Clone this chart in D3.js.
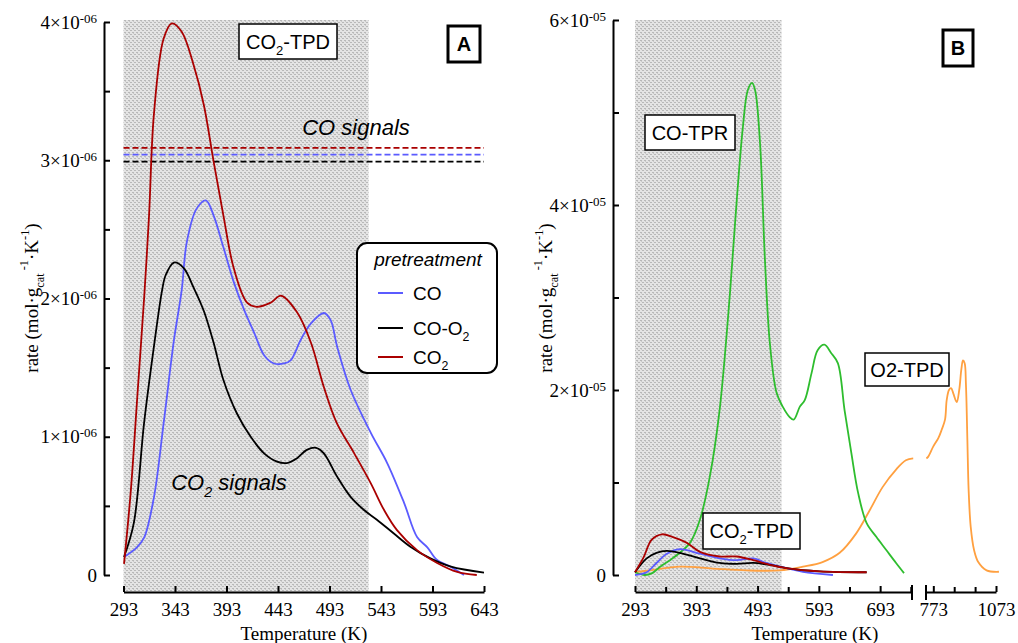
<!DOCTYPE html>
<html><head><meta charset="utf-8">
<script src="https://cdn.jsdelivr.net/npm/d3@7"></script>
<style>body{margin:0;background:#fff} svg{display:block}</style>
</head><body><svg id="c" width="1018" height="643"></svg>
<script>
// ---------- DATA ----------
// Panel A (rate in units of 1e-6 mol·g-1·K-1), temperature in K
const xTicksA = [293,343,393,443,493,543,593,643];
const yTicksA = [0,1,2,3,4];
const yMinorA = [0.5,1.5,2.5,3.5];
const yExpA = "-06";
const A_CO = [[293.5,0.13],[306,0.2],[313,0.27],[322.5,0.56],[332,1.1],[342,1.70],[349.5,2.06],[354.5,2.41],[364,2.65],[373,2.71],[380.5,2.60],[390,2.37],[400,2.12],[410,1.92],[420,1.75],[429.5,1.59],[439,1.53],[449,1.53],[455.5,1.555],[465,1.70],[475,1.82],[487.5,1.895],[494,1.845],[500.5,1.65],[513.5,1.34],[533,1.03],[549,0.81],[565.5,0.52],[578,0.275],[588,0.2],[597.5,0.108],[611,0.058],[623.5,0.0]];
const A_COO2 = [[293.5,0.13],[303,0.375],[313,1.10],[322.5,1.65],[330.5,2.06],[334,2.17],[342,2.26],[351.5,2.22],[361,2.08],[371,1.91],[380.5,1.68],[390,1.41],[403,1.17],[416.5,1.0],[429.5,0.88],[442,0.82],[451.5,0.81],[461.5,0.845],[471,0.905],[480,0.92],[487.5,0.88],[500.5,0.71],[513.5,0.565],[526.5,0.47],[539,0.40],[555.5,0.30],[571.5,0.205],[591,0.12],[611,0.06],[643,0.017]];
const A_CO2 = [[293.5,0.08],[300,0.6],[306.5,1.3],[313,2.0],[317.8,2.6],[322.5,3.33],[332,3.88],[340,3.99],[349.5,3.93],[361,3.69],[371,3.40],[380.5,2.99],[390,2.60],[400,2.22],[413,1.97],[422.5,1.94],[436,1.97],[446,2.02],[461.5,1.90],[475,1.68],[487.5,1.36],[500,1.10],[517,0.88],[533,0.665],[546,0.47],[558.5,0.325],[578,0.18],[597.5,0.087],[617,0.022],[636,0.0]];
const A_COsignals = [3.09, 3.04, 2.99]; // CO2, CO, CO-O2 pretreatment
const shadeA = [293, 531];

// Panel B (rate in units of 1e-5)
const xTicksB1 = [293,393,493,593,693];
const xMinorB1 = [343,443,543,643,743];
const xTicksB2 = [773,1073];
const xMinorB2 = [873,973];
const yTicksB = [0,2,4,6];
const yMinorB = [1,3,5];
const yExpB = "-05";
const B_CO = [[293,0.0],[312,0.03],[328,0.13],[345,0.23],[366,0.28],[399,0.23],[431,0.18],[459,0.16],[486,0.18],[507,0.13],[540,0.075],[567,0.035],[616,0.0]];
const B_COO2 = [[293,0.03],[312,0.18],[328,0.24],[345,0.26],[366,0.24],[399,0.18],[431,0.13],[459,0.12],[486,0.13],[513,0.11],[540,0.075],[594,0.04],[671,0.03]];
const B_CO2 = [[293,0.03],[307,0.19],[320,0.38],[337,0.44],[355,0.41],[377,0.35],[399,0.25],[431,0.2],[459,0.2],[486,0.16],[513,0.11],[540,0.075],[594,0.04],[671,0.03]];
const B_COTPR = [[293,0.03],[309,0.0],[321,0.02],[334,0.09],[350,0.16],[366,0.24],[383,0.35],[399,0.6],[415,1.06],[431,1.78],[448,3.05],[459,4.05],[469,4.84],[477,5.24],[484,5.32],[489,5.24],[497,4.67],[505,3.41],[513,2.51],[524,1.97],[534,1.82],[545,1.71],[552,1.68],[562,1.82],[570,1.89],[581,2.18],[591,2.43],[602,2.49],[613,2.40],[624,2.29],[635,1.78],[646,1.32],[657,0.89],[671,0.56],[687,0.41],[703,0.27],[719,0.13],[732,0.02]];
const B_O2TPD_1 = [[293,0.03],[317,0.05],[366,0.09],[420,0.07],[475,0.05],[529,0.05],[567,0.09],[599,0.14],[627,0.24],[654,0.45],[676,0.7],[697,0.95],[719,1.14],[735,1.24],[747,1.26]];
const B_O2TPD_2 = [[740,1.26],[749,1.28],[773,1.39],[797,1.48],[813,1.57],[829,1.68],[837,1.89],[848,2.0],[858,2.02],[869,1.96],[885,1.87],[897,2.0],[907,2.22],[915,2.32],[923,2.29],[929,2.07],[936,1.46],[942,0.92],[952,0.52],[968,0.27],[988,0.14],[1028,0.05],[1087,0.035]];
const shadeB = [293, 532];

const colors = {CO:"#5b5bff", COO2:"#000000", CO2:"#aa0000", TPR:"#2ebd2e", O2:"#ffa040"};

// ---------- DRAW ----------
const svg = d3.select('#c');
const defs = svg.append('defs');
const pat = defs.append('pattern').attr('id','hatch').attr('patternUnits','userSpaceOnUse').attr('width',4).attr('height',4);
pat.append('rect').attr('width',4).attr('height',4).attr('fill','#e4e4e4');
pat.append('rect').attr('x',0).attr('y',0).attr('width',2).attr('height',1).attr('fill','#b8b8b8');
pat.append('rect').attr('x',2).attr('y',2).attr('width',2).attr('height',1).attr('fill','#b8b8b8');
pat.append('rect').attr('x',1).attr('y',1).attr('width',1).attr('height',1).attr('fill','#cacaca');

const SERIF = "'Liberation Serif','Times New Roman',serif";
const SANS = "'Liberation Sans',Arial,sans-serif";

function richText(g, x, y, parts, opts) {
  const t = g.append('text').attr('x', x).attr('y', y)
    .attr('font-family', opts.family || SANS).attr('font-size', opts.size)
    .attr('text-anchor', opts.anchor || 'middle').attr('fill', '#000');
  if (opts.italic) t.attr('font-style', 'italic');
  if (opts.weight) t.attr('font-weight', opts.weight);
  let shift = 0;
  parts.forEach(p => {
    const [s, kind] = Array.isArray(p) ? p : [p, ''];
    const ts = t.append('tspan').text(s);
    let target = 0, fs = null;
    if (kind === 'sub') { target = opts.size * 0.3; fs = opts.size * 0.65; }
    if (kind === 'sup') { target = -opts.size * 0.45; fs = opts.size * 0.65; }
    if (kind === 'subsup') { target = -opts.size * 0.55; fs = opts.size * 0.65; }
    if (fs) ts.attr('font-size', fs);
    ts.attr('dy', target - shift);
    shift = target;
  });
  return t;
}

function box(g, x0, y0, x1, y1, sw) {
  g.append('rect').attr('x', x0).attr('y', y0).attr('width', x1 - x0).attr('height', y1 - y0)
    .attr('fill', '#fff').attr('stroke', '#000').attr('stroke-width', sw);
}

function drawYAxis(g, y, xPos, ticks, minor, exp) {
  const ax = g.append('g').attr('transform', `translate(${xPos},0)`)
    .call(d3.axisLeft(y).tickValues(ticks).tickSizeInner(-6).tickSizeOuter(0).tickPadding(7));
  ax.attr('font-family', SERIF);
  ax.select('.domain').attr('stroke-width', 2);
  ax.selectAll('.tick line').attr('stroke-width', 2);
  ax.selectAll('.tick text').each(function(d) {
    const t = d3.select(this);
    t.text(null).attr('font-family', SERIF).attr('font-size', 19).attr('fill', '#000');
    if (d === 0) { t.text('0'); return; }
    t.append('tspan').text(d + '×10');
    t.append('tspan').attr('dy', '-0.45em').attr('font-size', 13).text(exp);
  });
  const mi = g.append('g').attr('transform', `translate(${xPos},0)`)
    .call(d3.axisLeft(y).tickValues(minor).tickSizeInner(-6).tickSizeOuter(0).tickFormat(''));
  mi.select('.domain').remove();
  mi.selectAll('.tick line').attr('stroke-width', 2);
}

function drawXAxis(g, x, yPos, ticks, minor) {
  const ax = g.append('g').attr('transform', `translate(0,${yPos})`)
    .call(d3.axisBottom(x).tickValues(ticks).tickFormat(d3.format('d')).tickSizeInner(-6).tickSizeOuter(0).tickPadding(11));
  ax.attr('font-family', SERIF);
  ax.select('.domain').attr('stroke-width', 2);
  ax.selectAll('.tick line').attr('stroke-width', 2);
  ax.selectAll('.tick text').attr('font-family', SERIF).attr('font-size', 19).attr('fill', '#000');
  if (minor && minor.length) {
    const mi = g.append('g').attr('transform', `translate(0,${yPos})`)
      .call(d3.axisBottom(x).tickValues(minor).tickSizeInner(-5).tickSizeOuter(0).tickFormat(''));
    mi.select('.domain').remove();
    mi.selectAll('.tick line').attr('stroke-width', 2);
  }
  return ax;
}

function yTitle(g, x, y) {
  const t = richText(g, 0, 0, ['rate (mol·g', ['cat','sub'], [' -1','subsup'], ['·K',''], ['-1','sup'], [')','']],
    {family: SERIF, size: 19});
  t.attr('transform', `translate(${x},${y}) rotate(-90)`);
}

// ===== Panel A =====
const xA = d3.scaleLinear().domain([293, 643]).range([123.5, 484]);
const yA = d3.scaleLinear().domain([0, 4]).range([575, 22]);
const gA = svg.append('g');
gA.append('rect').attr('x', xA(shadeA[0])).attr('y', 20).attr('width', xA(shadeA[1]) - xA(shadeA[0]))
  .attr('height', 592 - 20).attr('fill', 'url(#hatch)');

const dashCols = [colors.CO2, colors.CO, colors.COO2];
A_COsignals.forEach((v, i) => {
  gA.append('line').attr('x1', xA(293)).attr('x2', xA(643)).attr('y1', yA(v)).attr('y2', yA(v))
    .attr('stroke', dashCols[i]).attr('stroke-width', 1.8).attr('stroke-dasharray', '6,3');
});

const lineA = d3.line().x(d => xA(d[0])).y(d => yA(d[1])).curve(d3.curveCatmullRom.alpha(0.5));
[[A_CO, colors.CO], [A_COO2, colors.COO2], [A_CO2, colors.CO2]].forEach(([data, c]) => {
  gA.append('path').datum(data).attr('d', lineA).attr('fill', 'none').attr('stroke', c).attr('stroke-width', 1.8);
});

// annotations A
box(gA, 239, 24, 337, 59, 1.5);
richText(gA, 288, 49, ['CO', ['2','sub'], ['-TPD','']], {size: 20});
box(gA, 448, 26, 480, 62, 3);
richText(gA, 464, 51, ['A'], {size: 20, weight: 'bold'});
richText(gA, 356, 135, ['CO signals'], {size: 22, italic: true});
richText(gA, 229, 490, ['CO', ['2','sub'], [' signals','']], {size: 22, italic: true});

// legend
gA.append('rect').attr('x', 357).attr('y', 243).attr('width', 140).attr('height', 130).attr('rx', 10)
  .attr('fill', '#fff').attr('stroke', '#000').attr('stroke-width', 2);
richText(gA, 428, 266, ['pretreatment'], {size: 19, italic: true});
const legItems = [
  [['CO'], colors.CO, 293],
  [['CO-O', ['2','sub']], colors.COO2, 328],
  [['CO', ['2','sub']], colors.CO2, 357]
];
legItems.forEach(([parts, c, yy]) => {
  gA.append('line').attr('x1', 378).attr('x2', 403).attr('y1', yy).attr('y2', yy).attr('stroke', c).attr('stroke-width', 2);
  richText(gA, 413, yy + 7, parts, {size: 19, anchor: 'start'});
});

drawYAxis(gA, yA, 104, yTicksA, yMinorA, yExpA);
drawXAxis(gA, xA, 592, xTicksA, []);
gA.append('text').attr('x', 304).attr('y', 640).attr('text-anchor', 'middle').attr('font-family', SERIF)
  .attr('font-size', 19).text('Temperature (K)');
yTitle(gA, 38, 298);

// ===== Panel B =====
const xB1 = d3.scaleLinear().domain([293, 745]).range([635, 912]);
const xB2 = d3.scaleLinear().domain([738, 1073]).range([926, 996]);
const yB = d3.scaleLinear().domain([0, 6]).range([575, 20]);
const gB = svg.append('g');
gB.append('rect').attr('x', xB1(shadeB[0])).attr('y', 20).attr('width', xB1(shadeB[1]) - xB1(shadeB[0]))
  .attr('height', 592 - 20).attr('fill', 'url(#hatch)');

const lineB1 = d3.line().x(d => xB1(d[0])).y(d => yB(d[1])).curve(d3.curveCatmullRom.alpha(0.5));
const lineB2 = d3.line().x(d => xB2(d[0])).y(d => yB(d[1])).curve(d3.curveCatmullRom.alpha(0.5));
gB.append('path').datum(B_O2TPD_1).attr('d', lineB1).attr('fill', 'none').attr('stroke', colors.O2).attr('stroke-width', 1.8);
gB.append('path').datum(B_O2TPD_2).attr('d', lineB2).attr('fill', 'none').attr('stroke', colors.O2).attr('stroke-width', 1.8);
gB.append('path').datum(B_COTPR).attr('d', lineB1).attr('fill', 'none').attr('stroke', colors.TPR).attr('stroke-width', 1.8);
[[B_CO, colors.CO], [B_COO2, colors.COO2], [B_CO2, colors.CO2]].forEach(([data, c]) => {
  gB.append('path').datum(data).attr('d', lineB1).attr('fill', 'none').attr('stroke', c).attr('stroke-width', 1.8);
});

box(gB, 645, 115, 735, 150, 1.5);
richText(gB, 690, 140, ['CO-TPR'], {size: 20});
box(gB, 703, 513, 800, 549, 1.5);
richText(gB, 751.5, 538, ['CO', ['2','sub'], ['-TPD','']], {size: 20});
box(gB, 865, 353, 949, 386, 1.5);
richText(gB, 907, 377, ['O2-TPD'], {size: 20});
box(gB, 943, 30, 973, 66, 3);
richText(gB, 958, 55, ['B'], {size: 20, weight: 'bold'});

drawYAxis(gB, yB, 613, yTicksB, yMinorB, yExpB);
drawXAxis(gB, xB1, 592, xTicksB1, xMinorB1);
drawXAxis(gB, xB2, 592, xTicksB2, xMinorB2);
// break marks
[xB1.range()[1], xB2.range()[0]].forEach(xx => {
  gB.append('line').attr('x1', xx).attr('x2', xx).attr('y1', 585).attr('y2', 600).attr('stroke', '#000').attr('stroke-width', 2);
});
gB.append('text').attr('x', 815).attr('y', 640).attr('text-anchor', 'middle').attr('font-family', SERIF)
  .attr('font-size', 19).text('Temperature (K)');
yTitle(gB, 552, 298);
</script></body></html>
